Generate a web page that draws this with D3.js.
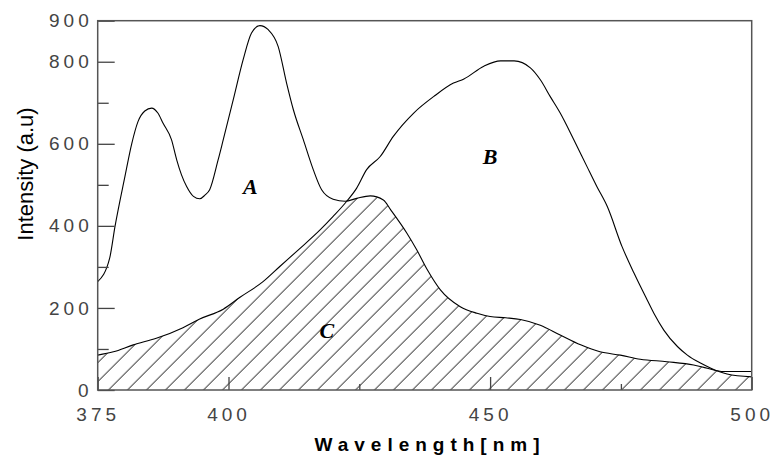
<!DOCTYPE html>
<html>
<head>
<meta charset="utf-8">
<script src="https://cdn.jsdelivr.net/npm/d3@7"></script>
<style>
  body { margin: 0; background: #fff; }
  .tick text { font-family: "Liberation Sans", Arial, sans-serif; font-size: 19px; fill: #444; letter-spacing: 4px; }
  .curve { fill: none; stroke: #000; stroke-width: 1.1; }
  .lbl { font-family: "Liberation Serif", serif; font-weight: bold; font-style: italic; font-size: 22px; fill: #000; }
</style>
</head>
<body>
<div id="chart"></div>
<script>
// curve A (with its tail C)
var waveA = [375, 377.3, 378.3, 380.2, 381.5, 382.7, 384, 385.3, 386.5, 387.5, 389.1, 390.1, 391, 392, 393.3, 394.5, 395.5, 396.4, 398, 399, 400.9, 402.8, 404.4, 406, 407.6, 409.5, 411.1, 412.4, 414.3, 416.2, 417.8, 420, 422.3, 424.5, 427.1, 429.6, 431, 434.1, 436, 438, 440.5, 444.3, 447.5, 450, 453, 455.8, 459.6, 463.4, 467.3, 471, 474.9, 478.7, 483.8, 488.9, 491.5, 494.6, 500];
var intA = [264, 322, 398, 520, 600, 654, 680, 687, 675, 650, 610, 561, 525, 496, 472, 466, 475, 488, 560, 610, 707, 805, 870, 888, 878, 837, 748, 683, 610, 537, 488, 465, 460, 467, 473, 463, 439, 382, 341, 293, 244, 203, 187, 179, 176, 172, 158, 134, 110, 93, 85, 75, 69, 61, 53, 45, 45];

// curve B
var waveB = [375, 378, 381.8, 386.2, 391.3, 394.5, 399, 402.2, 406.6, 409.8, 413.3, 417.5, 420, 422.6, 424.5, 426.4, 429, 431.5, 435.4, 439.2, 443, 445, 448.8, 452, 454.6, 457.7, 459.6, 461.5, 463.4, 466, 468.5, 470.4, 472.4, 475.2, 477.5, 480, 481.3, 483.2, 485.8, 487.7, 490.3, 492.2, 495.3, 500];
var intB = [85, 93, 110, 126, 152, 173, 197, 226, 264, 301, 341, 390, 423, 460, 492, 537, 569, 618, 675, 715, 748, 758, 789, 802, 802, 785, 756, 715, 675, 610, 545, 496, 447, 350, 285, 220, 187, 146, 106, 85, 65, 53, 39, 32];

var xMajor = [375, 400, 450, 500];
var xMinor = [425, 475];
var yMajor = [0, 200, 400, 600, 800, 900];
var yMinor = [100, 300, 500, 700];

var labelText = ["A", "B", "C"];
var labelWave = [404.2, 450, 418.8];
var labelInt = [478, 551, 127];

var margin = { top: 20.7, right: 21.3, bottom: 65, left: 97.7 };
var width = 773 - margin.left - margin.right;
var height = 455 - margin.top - margin.bottom;

var svg = d3.select("#chart").append("svg")
    .attr("width", 773)
    .attr("height", 455);

var g = svg.append("g")
    .attr("transform", "translate(" + margin.left + "," + margin.top + ")");

var x = d3.scaleLinear().domain([375, 500]).range([0, width]);
var y = d3.scaleLinear().domain([0, 900]).range([height, 0]);

var ptsA = waveA.map(function(d, i) { return [d, intA[i]]; });
var ptsB = waveB.map(function(d, i) { return [d, intB[i]]; });

var line = d3.line()
    .x(function(d) { return x(d[0]); })
    .y(function(d) { return y(d[1]); })
    .curve(d3.curveMonotoneX);

var area = d3.area()
    .x(function(d) { return x(d[0]); })
    .y0(height)
    .y1(function(d) { return y(d[1]); })
    .curve(d3.curveMonotoneX);

// hatch pattern
var defs = svg.append("defs");
var pat = defs.append("pattern")
    .attr("id", "hatch")
    .attr("patternUnits", "userSpaceOnUse")
    .attr("width", 19)
    .attr("height", 19);
pat.append("path")
    .attr("d", "M-4,4 L4,-4 M0,19 L19,0 M15,23 L23,15")
    .attr("stroke", "#000")
    .attr("stroke-width", 1);

// overlap = under A and under B
defs.append("clipPath").attr("id", "underB")
  .append("path")
    .attr("d", area(ptsB));

g.append("path")
    .attr("d", area(ptsA))
    .attr("fill", "url(#hatch)")
    .attr("clip-path", "url(#underB)");

g.append("path").attr("class", "curve").attr("d", line(ptsA));
g.append("path").attr("class", "curve").attr("d", line(ptsB));

// axes
g.append("g")
    .attr("transform", "translate(0," + height + ")")
    .call(d3.axisBottom(x).tickValues(xMajor).tickSizeInner(-13).tickSizeOuter(0).tickPadding(18).tickFormat(d3.format("d")));
g.append("g")
    .attr("transform", "translate(0," + height + ")")
    .call(d3.axisBottom(x).tickValues(xMinor).tickSizeInner(-6).tickSizeOuter(0).tickFormat(""));
g.append("g")
    .call(d3.axisLeft(y).tickValues(yMajor).tickSizeInner(-17).tickSizeOuter(0).tickPadding(5).tickFormat(d3.format("d")));
g.append("g")
    .call(d3.axisLeft(y).tickValues(yMinor).tickSizeInner(-11).tickSizeOuter(0).tickFormat(""));

g.selectAll(".domain").remove();
g.selectAll(".tick line").attr("stroke", "#444").attr("stroke-width", 1.3);

g.append("rect")
    .attr("width", width)
    .attr("height", height)
    .attr("fill", "none")
    .attr("stroke", "#555")
    .attr("stroke-width", 1.5);

// curve labels
g.selectAll(".lbl")
    .data(labelText)
    .enter().append("text")
    .attr("class", "lbl")
    .attr("x", function(d, i) { return x(labelWave[i]); })
    .attr("y", function(d, i) { return y(labelInt[i]); })
    .attr("text-anchor", "middle")
    .text(function(d) { return d; });

// axis titles
svg.append("text")
    .attr("transform", "translate(33,174) rotate(-90)")
    .attr("text-anchor", "middle")
    .style("font-family", "Liberation Sans, Arial, sans-serif")
    .style("font-size", "22px")
    .text("Intensity (a.u)");

svg.append("text")
    .attr("x", 430)
    .attr("y", 451)
    .attr("text-anchor", "middle")
    .style("font-family", "Liberation Sans, Arial, sans-serif")
    .style("font-size", "19px")
    .style("font-weight", "bold")
    .style("letter-spacing", "6px")
    .text("Wavelength[nm]");
</script>
</body>
</html>
